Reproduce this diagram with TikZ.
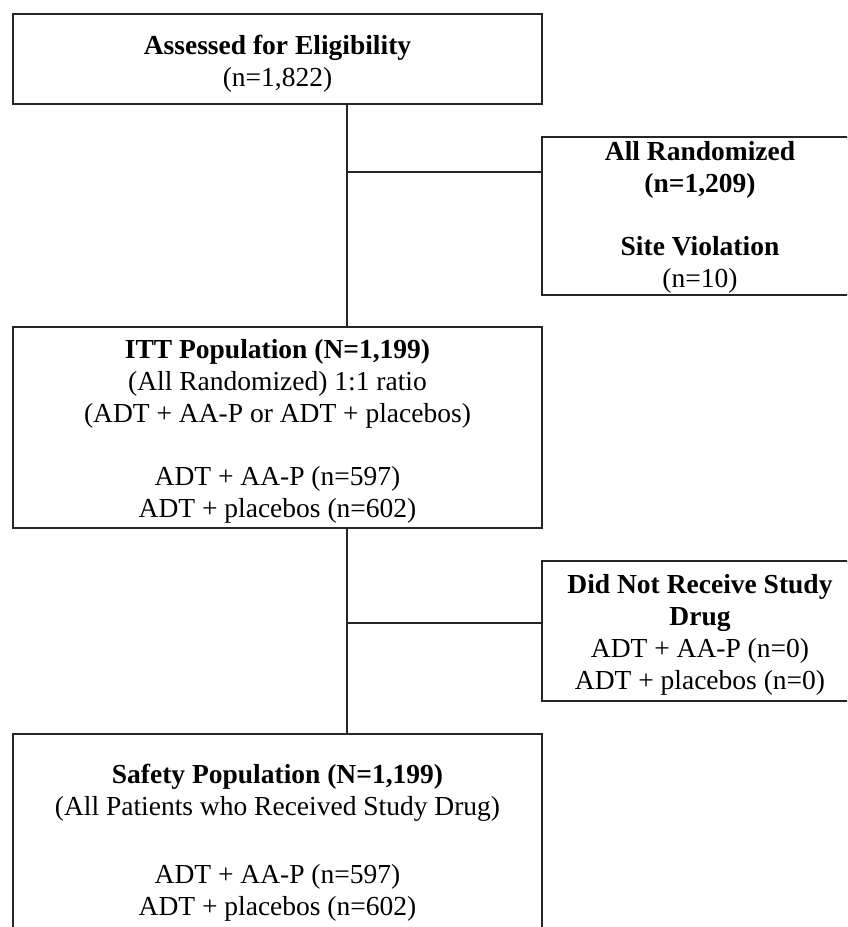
\documentclass[tikz,border=0pt]{standalone}
\usepackage{fontspec}
\setmainfont{Liberation Serif}
\begin{document}
\begin{tikzpicture}[x=1pt,y=-1pt,
  box/.style={draw=black!85, line width=1.5pt, inner sep=0pt},
  txt/.style={align=center, inner sep=0pt,
    font=\fontsize{27.5}{32}\selectfont},
  link/.style={draw=black!85, line width=1.5pt}]
\useasboundingbox (0,0) rectangle (847,927);
\clip (0,0) rectangle (847,927);
\node[box, minimum width=529pt, minimum height=90pt,
  label={[txt, yshift=-5pt]center:{\textbf{Assessed for Eligibility}\\(n=1,822)}}]
  (elig) at (277.5,59) {};
\node[box, minimum width=316pt, minimum height=158pt,
  label={[txt, yshift=-1.5pt]center:{\textbf{All Randomized}\\\textbf{(n=1,209)}\\[31pt]\textbf{Site Violation}\\(n=10)}}]
  (rand) at (700,216) {};
\node[box, minimum width=529pt, minimum height=201pt,
  label={[txt, yshift=-3.5pt]center:{\textbf{ITT Population (N=1,199)}\\(All Randomized) 1:1 ratio\\(ADT + AA-P or ADT + placebos)\\[31pt]ADT + AA-P (n=597)\\ADT + placebos (n=602)}}]
  (itt) at (277.5,427.5) {};
\node[box, minimum width=316pt, minimum height=140pt,
  label={[txt, yshift=-3.5pt]center:{\textbf{Did Not Receive Study}\\\textbf{Drug}\\ADT + AA-P (n=0)\\ADT + placebos (n=0)}}]
  (dnr) at (700,631) {};
\node[box, minimum width=529pt, minimum height=212pt,
  label={[txt, yshift=-2.5pt]center:{\textbf{Safety Population (N=1,199)}\\(All Patients who Received Study Drug)\\[36pt]ADT + AA-P (n=597)\\ADT + placebos (n=602)}}]
  (safe) at (277.5,840) {};
\coordinate (s1) at (347,172);
\coordinate (s2) at (347,623);
\draw[link] (elig.south -| s1) -- (itt.north -| s1);
\draw[link] (s1) -- (s1 -| rand.west);
\draw[link] (itt.south -| s2) -- (safe.north -| s2);
\draw[link] (s2) -- (s2 -| dnr.west);
\end{tikzpicture}
\end{document}
